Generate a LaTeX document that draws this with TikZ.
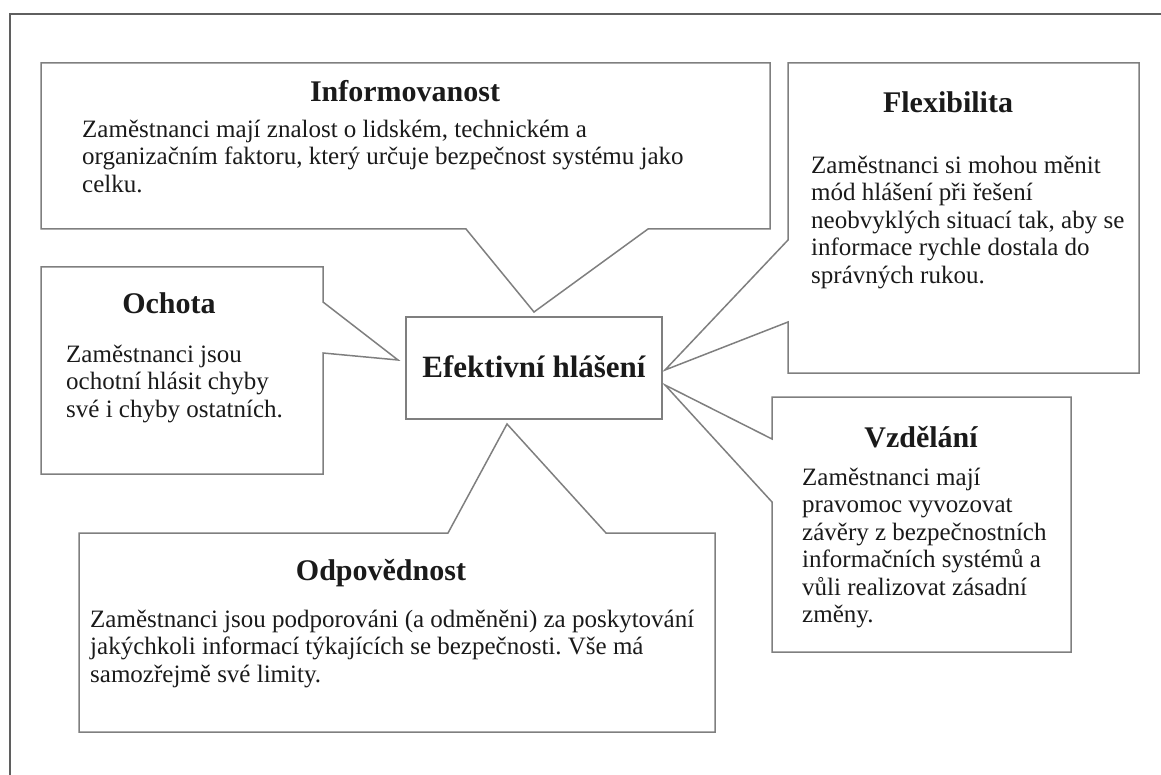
\documentclass[tikz,border=0pt]{standalone}
\usepackage{fontspec}
\setmainfont{Liberation Serif}
\definecolor{boxline}{HTML}{7F7F7F}
\definecolor{frameline}{HTML}{5F5F5F}
\definecolor{ink}{HTML}{1A1A1A}
\frenchspacing

\begin{document}
\begin{tikzpicture}[x=1pt,y=-1pt,
		callout/.style={draw=boxline,line width=1.5pt,line join=miter},
		boxtitle/.style={anchor=base,inner sep=0pt,text=ink,font=\fontsize{30}{34}\selectfont\bfseries},
		boxtext/.style={anchor=north west,inner sep=0pt,align=left,text=ink,font=\fontsize{25}{27.5}\selectfont}]
		\useasboundingbox (0,0) rectangle (1161,775);
		\draw[frameline,line width=2.6pt] (10,775) -- (10,14) -- (1161,14);

		\draw[callout] (41,63) -- (770,63) -- (770,229) -- (648,229) -- (534,312) -- (466,229) -- (41,229) -- cycle;
		\draw[callout] (788,63) -- (1139,63) -- (1139,373) -- (788,373) -- (788,322) -- (665,370) -- (788,240) -- cycle;
		\draw[callout] (41,267) -- (323,267) -- (323,302) -- (398,360) -- (323,353) -- (323,474) -- (41,474) -- cycle;
		\draw[callout] (772,397) -- (1071,397) -- (1071,652) -- (772,652) -- (772,502) -- (665,385) -- (772,439) -- cycle;
		\draw[callout] (79,533) -- (448,533) -- (507,424) -- (606,533) -- (715,533) -- (715,732) -- (79,732) -- cycle;

		\node (eff) at (534,368) [draw=boxline,line width=1.5pt,minimum width=256pt,minimum height=102pt,inner sep=0pt,text height=18pt,text depth=0pt,text=ink,font=\fontsize{31}{35}\selectfont\bfseries] {Efektivní hlášení};

		\node (infoT) at (405,102) [boxtitle] {Informovanost};
		\node (infoB) at (82,117) [boxtext] {\rule{0pt}{20pt}Zaměstnanci mají znalost o lidském, technickém a\\organizačním faktoru, který určuje bezpečnost systému jako\\celku.};

		\node (flexT) at (948,113) [boxtitle] {Flexibilita};
		\node (flexB) at (811,153) [boxtext] {\rule{0pt}{20pt}Zaměstnanci si mohou měnit\\mód hlášení při řešení\\neobvyklých situací tak, aby se\\informace rychle dostala do\\správných rukou.};

		\node (ochT) at (169,313) [boxtitle] {Ochota};
		\node (ochB) at (66,342) [boxtext] {\rule{0pt}{20pt}Zaměstnanci jsou\\ochotní hlásit chyby\\své i chyby ostatních.};

		\node (vzdT) at (921,447) [boxtitle] {Vzdělání};
		\node (vzdB) at (802,465) [boxtext] {\rule{0pt}{20pt}Zaměstnanci mají\\pravomoc vyvozovat\\závěry z bezpečnostních\\informačních systémů a\\vůli realizovat zásadní\\změny.};

		\node (odpT) at (381,580) [boxtitle] {Odpovědnost};
		\node (odpB) at (90,607) [boxtext] {\rule{0pt}{20pt}Zaměstnanci jsou podporováni (a odměněni) za poskytování\\jakýchkoli informací týkajících se bezpečnosti. Vše má\\samozřejmě své limity.};
	\end{tikzpicture}
\end{document}
